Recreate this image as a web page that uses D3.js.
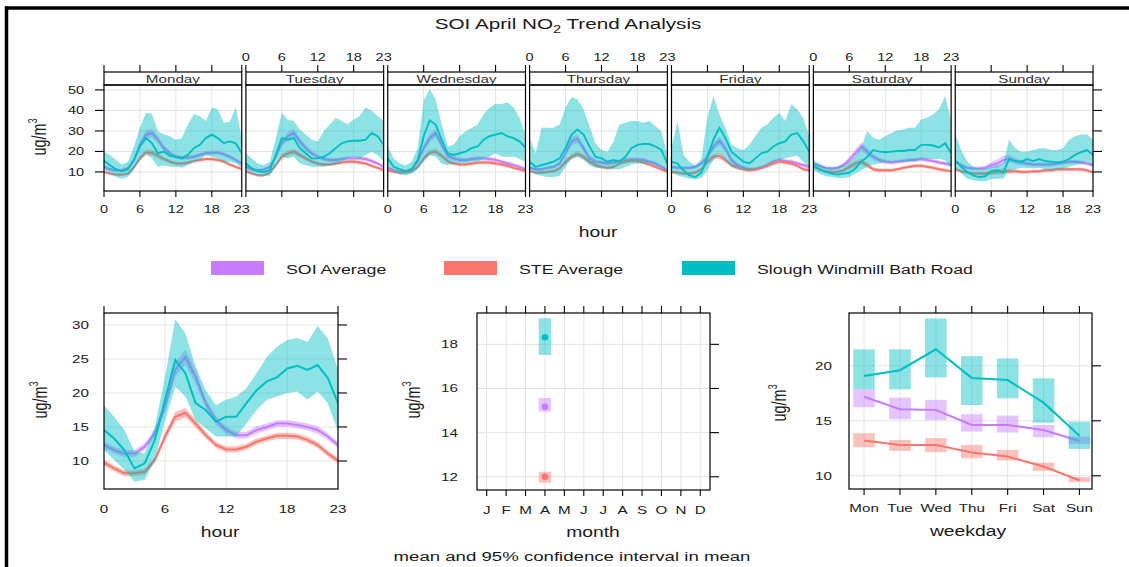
<!DOCTYPE html>
<html>
<head>
<meta charset="utf-8">
<script src="https://cdn.jsdelivr.net/npm/d3@7"></script>
<style>
  body { margin: 0; background: #fff; }
  svg { display: block; }
  text { font-family: "Liberation Sans", Arial, sans-serif; fill: #1a1a1a; }
</style>
</head>
<body>
<svg id="chart" width="1129" height="567"></svg>
<script>
// ---------------- data ----------------
const seriesNames = ["SOI Average", "STE Average", "Slough Windmill Bath Road"];
const seriesColors = ["#C77CFF", "#F8766D", "#00BFC4"];

const days = ["Monday", "Tuesday", "Wednesday", "Thursday", "Friday", "Saturday", "Sunday"];
const hourTicks = [0, 6, 12, 18, 23];
const topYTicks = [10, 20, 30, 40, 50];

// hour-by-weekday means (one row of 24 hours per day)
const soiByDay = [
  [12.5,11.3,10.8,10.8,12,15.8,23.2,28.2,29,25.7,21.6,19.1,17.4,16.9,16.9,17.4,18.3,19.1,19.4,19.4,18.6,17.4,15.8,14.1],
  [12.5,11.3,10.8,11.1,12.5,17.4,24,27.4,29,24.9,21.6,19.1,17.4,16.3,15.8,15.8,16.3,16.6,16.6,16.6,16.3,15.3,14.1,12.5],
  [12,10.8,10,10.3,11.3,15,21.6,26.5,29,23.2,17.9,16.6,15.8,15.8,16.3,16.6,16.6,16.3,15.8,15,14.1,13.3,12.5,11.3],
  [12,11.3,11.3,12,12.5,14.1,19.1,24.9,26.2,21.6,16.6,15,14.6,14.1,14.6,15.3,15.8,16.1,16.1,15.8,15,14.1,12.5,10.8],
  [12.5,12,12,12,12.5,14.1,17.4,22.4,25.2,21.6,15.8,13.3,12,11.3,11.3,12,13.3,15,15.8,15.3,15,14.1,13.3,12.5],
  [14.1,13,12,11.7,12,13.3,15.8,19.1,22.4,19.9,17.4,15.8,15,14.6,15,15.3,15.8,15.8,16.3,15.8,15.3,14.6,14.1,13.3],
  [15,13.3,12,11.7,11.7,12,13.3,14.1,15.8,16.6,15.3,14.6,14.1,13.6,13.6,13.6,13.6,14.1,14.6,15,15,14.6,14.1,13.3]
];
const steByDay = [
  [10,9.2,8.7,8.7,9.2,12.5,16.6,19.4,19.4,17.9,16.3,15,14.1,14.1,14.5,15.3,15.8,16.3,16.3,15.8,15,13.6,12.5,11.3],
  [10.3,9.2,8.3,8.3,9.7,13.3,17.4,19.1,19.9,18.3,16.6,15,14.1,13.6,13.6,14.1,14.6,15,15,14.6,14.1,13,12,10.8],
  [10.8,10,9.7,9.7,10.3,12.5,16.6,19.4,19.9,17.9,15.3,14.1,13.6,13.6,14.1,14.5,14.6,14.6,14.1,13.6,13,12,11.3,10.3],
  [10.3,9.7,9.7,10,10.3,11.7,15,17.4,18.8,17.4,15,13.3,12.5,12,12.5,14.1,15,15.5,15.3,14.6,13.6,12.5,11.3,10],
  [10,9.7,9.2,9.2,9.7,11.3,15,17.4,17.9,15.8,13.3,12,11.3,10.8,11.3,12,13,14.1,15,14.6,14.1,13,11.3,10.8],
  [12.5,11.3,10.3,10,10,10.8,12.5,14.1,15,13.3,11.3,10.8,10.8,10.8,11.3,12,12.5,13,13,12.5,12,11.3,10.8,10.3],
  [11.3,10.3,9.7,9.2,9.2,9.2,9.7,10,10.3,10.3,10.3,10,10,10.3,10.3,10.8,10.8,11.3,11.3,11.3,11.3,11.3,10.8,9.7]
];
const sloughByDay = [
  [15.5,13.3,11.3,10.3,11.3,15.8,22.4,26.5,24,19.1,19.9,17.9,17.4,16.6,18.3,21.6,23.2,26.5,28.2,26.5,24,24.9,24,19.1],
  [14.1,11.7,10.3,10,10.8,18.3,26.5,25.7,26.5,21.6,19.1,16.6,16.6,17.4,19.1,21.6,24,24.9,25.2,25.2,25.7,29,27.4,23.2],
  [16.6,12.5,11.3,10.3,11.3,15.8,27.4,35.1,33.1,25.7,19.1,18.3,19.1,19.9,21.6,22.4,25.7,27.4,28.2,29,27.4,26.5,24.9,21.9],
  [15,12.5,13.3,14.1,15,16.6,21.6,28.2,30.7,28.2,22.4,17.4,16.6,15,15.8,15,17.4,21.6,23.2,23.6,23.6,22.4,20.7,14.1],
  [15,14.1,10.8,8.3,7.5,9.7,17.4,25.7,31.5,26.5,19.9,17.4,15,14.1,16.6,19.1,19.9,22.4,24,24.9,28.2,29,24.9,19.9],
  [13.3,11.3,10,9.2,8.7,9.2,9.7,11.7,15,17.4,20.7,19.9,19.6,19.9,20.2,20.2,20.7,20.7,23.2,23.2,22.9,21.9,24,19.1],
  [15.8,12.5,10,8.3,7.5,7.9,10.3,10.8,9.7,16.3,15.3,15,16.3,15.3,16.3,15.3,15,14.6,15,16.3,18.3,19.6,20.7,18.3]
];
const sloughLoByDay = [
  [11.3,9.2,7.5,6.7,7.5,10.8,15.8,19.1,16.6,12.5,13.3,12.5,12.5,12,13.3,15,15.8,18.3,17.4,16.6,15,15,14.1,12],
  [10.8,9.2,8.3,8,8.3,12.5,17.4,16.6,17.4,14.1,13.3,12.5,12.5,12.5,13.3,13.6,15,16.6,17.4,16.6,18.3,19.9,18.3,15],
  [13.3,10,8.7,8.3,9.2,11.3,15,18.3,17.4,14.1,13.3,14.1,14.1,14.1,15,15,16.3,17.4,19.1,17.4,17.4,17.4,16.3,15],
  [10.8,8.7,8,7.5,7.5,8,12.5,16.6,17.4,15.8,13.3,12,11.7,11.3,11.3,11.3,12.5,13.6,14.1,14.1,14.1,13,12,10],
  [9.7,8.3,7.5,6.7,6.4,7,10.8,15.8,19.1,15.8,12.5,12,10.8,10.8,11.3,12,13.3,15,15.8,16.6,17.4,17.9,15,12.5],
  [10.8,9.2,8,7.5,7,7,7.5,9.2,10.8,12.5,13.6,14.1,14.6,14.6,15,15,15,15.3,16.3,16.3,16.3,16.3,15.8,12],
  [12,9.2,6.7,5.9,5.4,5.4,6.4,6.7,6.7,10.8,11.3,12,12,11.7,12,11.3,10.8,11.3,11.3,12.5,13.3,14.1,15,12.5]
];
const sloughHiByDay = [
  [19.9,18.3,15.8,13.6,15,22.4,31.5,38.9,38.4,29.8,28.2,27.4,25.7,26.5,33.1,38.1,37.3,34.8,41.4,40.6,34,34.5,41.4,26.5],
  [19.1,16.6,14.1,13.3,15,26.5,38.9,35.6,34.8,30.7,28.2,25.7,24.9,29.8,33.1,36.4,34.8,33.1,35.6,37.3,41.4,39.8,37.3,34.8],
  [22.4,16.6,14.1,13.3,15,21.6,44.7,50.5,45.5,33.1,22.4,23.2,27.4,29.8,31.5,33.1,38.1,41.4,43.1,43.1,43.9,41.4,36.4,28.2],
  [26.5,19.1,31.5,31.5,31.5,33.1,41.4,46.4,45.5,40.6,32.3,24,20.7,19.9,24.9,33.1,34,34.8,34.8,34,34.8,32.3,29.8,18.3],
  [21.6,34.8,18.3,15,13.3,16.6,36.4,47.2,38.1,31.5,23.2,21.6,20.7,23.2,27.4,31.5,33.1,36.4,38.9,34.8,43.1,40.6,36.4,27.4],
  [15.8,14.1,12.5,12,12.5,13.3,15,17.4,22.4,29.8,26.5,25.7,27.4,29,30.2,30.7,31.5,31.5,35.6,36.4,38.1,40.6,47.2,34.8],
  [28.2,20.7,15,12.5,11.7,11.7,12.5,13.3,14.1,25.7,21.6,19.9,19.9,20.7,21.6,21.6,20.7,20.7,21.6,25.7,27.4,28.2,28.2,25.7]
];
// half-width of the 95% interval by hour for the two network averages
const soiDayHalfWidth = [0.8,0.8,0.8,0.8,0.8,1,1.5,2,2,1.8,1.5,1.2,1,1,1,1,1,1,1,1,1,1,0.9,0.9];
const steDayHalfWidth = [0.7,0.7,0.7,0.7,0.7,0.8,1.2,1.4,1.4,1.2,1,0.9,0.8,0.8,0.8,0.8,0.8,0.8,0.8,0.8,0.8,0.8,0.8,0.7];

// diurnal profile (all days)
const hourTicksBottom = [0, 6, 12, 18, 23];
const hourYTicks = [10, 15, 20, 25, 30];
const soiHour   = [12.35,11.6,11.1,11.1,12.1,14.1,18.0,23.4,25.3,22.4,18.5,16.0,14.56,13.8,13.8,14.56,15.0,15.5,15.5,15.3,15.0,14.56,13.6,12.35];
const soiHourLo = [11.85,11.1,10.6,10.6,11.6,13.5,17.2,22.4,24.2,21.4,17.8,15.4,14.0,13.3,13.3,14.0,14.5,15.0,15.0,14.8,14.5,14.0,13.1,11.9];
const soiHourHi = [12.85,12.1,11.6,11.6,12.6,14.7,18.8,24.4,26.4,23.4,19.2,16.6,15.1,14.3,14.3,15.1,15.5,16.0,16.0,15.8,15.5,15.1,14.1,12.8];
const steHour   = [9.75,8.9,8.2,8.2,8.4,10.15,13.6,16.5,17.1,15.5,13.8,12.35,11.7,11.7,12.1,12.85,13.3,13.7,13.7,13.6,13.1,12.35,11.1,10.05];
const steHourLo = [9.3,8.45,7.75,7.75,7.95,9.7,13.0,15.8,16.4,14.9,13.3,11.9,11.25,11.25,11.65,12.4,12.85,13.25,13.25,13.15,12.65,11.9,10.65,9.6];
const steHourHi = [10.2,9.35,8.65,8.65,8.85,10.6,14.2,17.2,17.8,16.1,14.3,12.8,12.15,12.15,12.55,13.3,13.75,14.15,14.15,14.05,13.55,12.8,11.55,10.5];
const sloughHour   = [14.56,13.3,11.6,8.9,9.66,13.1,19.0,24.85,22.9,18.5,17.5,15.8,16.5,16.5,18.5,20.4,21.7,22.3,23.6,24.0,23.4,24.1,22.2,18.5];
const sloughHourLo = [11.6,10.15,8.7,6.95,7.2,10.15,16.0,20.9,19.5,16.0,14.8,13.6,13.6,13.6,15.5,17.5,19.0,19.5,20.0,20.2,19.0,20.2,18.5,14.3];
const sloughHourHi = [18.2,16.5,14.56,11.4,11.1,15.0,22.4,30.8,28.8,23.9,20.4,18.2,19.0,19.5,20.7,22.9,25.3,26.8,27.8,28.1,27.5,29.85,28.0,23.5];

// monthly means (April only)
const monthLabels = ["J","F","M","A","M","J","J","A","S","O","N","D"];
const monthYTicks = [12, 14, 16, 18];
const monthIndex = 4;
const monthMean = [15.17, 12.0, 18.32];
const monthLo   = [14.95, 11.73, 17.52];
const monthHi   = [15.57, 12.23, 19.18];

// day-of-week means
const weekdayLabels = ["Mon","Tue","Wed","Thu","Fri","Sat","Sun"];
const weekdayYTicks = [10, 15, 20];
const soiWd   = [17.19,16.05,15.98,14.62,14.62,14.17,13.17];
const soiWdLo = [16.23,15.14,15.08,14.02,13.93,13.51,12.9];
const soiWdHi = [17.86,17.1,16.9,15.6,15.47,14.62,13.56];
const steWd   = [13.2,12.81,12.81,12.11,11.75,10.84,9.6];
const steWdLo = [12.6,12.27,12.15,11.6,11.39,10.45,9.43];
const steWdHi = [13.87,13.26,13.42,12.81,12.36,11.2,9.88];
const sloughWd   = [19.07,19.6,21.5,18.9,18.7,16.65,13.65];
const sloughWdLo = [17.86,17.86,18.95,16.44,17.04,14.83,12.45];
const sloughWdHi = [21.49,21.5,24.3,20.88,20.67,18.86,14.92];

// ---------------- drawing ----------------
const svg = d3.select("#chart");
const SX = 1.38;           // horizontal text stretch used throughout
const GRID = "#e3e3e3";
const BAND_OPACITY = 0.45;
const hours = d3.range(24);

function label(g, x, y, str, size, anchor = "middle", sx = SX) {
  return g.append("text")
    .attr("transform", `translate(${x},${y}) scale(${sx},1)`)
    .attr("font-size", size)
    .attr("text-anchor", anchor)
    .text(str);
}
function yLabel(g, x, y, size) {
  const t = g.append("text")
    .attr("transform", `translate(${x},${y}) scale(${SX},1) rotate(-90)`)
    .attr("font-size", size)
    .attr("text-anchor", "middle");
  t.append("tspan").text("ug/m");
  t.append("tspan").attr("font-size", size * 0.6).attr("dy", -size * 0.45).text("3");
  return t;
}
function tick(g, x1, y1, x2, y2) {
  g.append("line").attr("x1", x1).attr("y1", y1).attr("x2", x2).attr("y2", y2)
    .attr("stroke", "#000").attr("stroke-width", 1.1);
}
let clipId = 0;
function clipFor(g, x, y, w, h) {
  const id = "clip" + (clipId++);
  svg.append("clipPath").attr("id", id).append("rect")
    .attr("x", x).attr("y", y).attr("width", w).attr("height", h);
  return g.append("g").attr("clip-path", `url(#${id})`);
}

// outer frame (left and top rules)
svg.append("line").attr("x1", 6.5).attr("y1", 6.5).attr("x2", 6.5).attr("y2", 567)
  .attr("stroke", "#000").attr("stroke-width", 3.5);
svg.append("line").attr("x1", 5).attr("y1", 8).attr("x2", 1129).attr("y2", 8)
  .attr("stroke", "#000").attr("stroke-width", 3.5);

// title
const title = svg.append("text")
  .attr("transform", `translate(568,29) scale(${SX},1)`)
  .attr("font-size", 15).attr("text-anchor", "middle");
title.append("tspan").text("SOI April NO");
title.append("tspan").attr("font-size", 10.5).attr("dy", 4).text("2");
title.append("tspan").attr("dy", -4).text(" Trend Analysis");

// ---- top row: hour by weekday ----
const topBand = d3.scaleBand().domain(days).range([104, 1093]).paddingInner(0.029);
const yTop = d3.scaleLinear().domain([0.7, 52.4]).range([191, 85]);
const stripTop = 72, panelTop = 85, panelBottom = 191;

const topSeries = days.map((_, d) => [
  { mean: soiByDay[d], lo: soiByDay[d].map((v, h) => v - soiDayHalfWidth[h]), hi: soiByDay[d].map((v, h) => v + soiDayHalfWidth[h]) },
  { mean: steByDay[d], lo: steByDay[d].map((v, h) => v - steDayHalfWidth[h]), hi: steByDay[d].map((v, h) => v + steDayHalfWidth[h]) },
  { mean: sloughByDay[d], lo: sloughLoByDay[d], hi: sloughHiByDay[d] }
]);

days.forEach((day, d) => {
  const x0 = topBand(day), w = topBand.bandwidth();
  const x = d3.scaleLinear().domain([0, 23]).range([x0, x0 + w]);
  const g = svg.append("g");

  // grid
  g.selectAll(".gv").data([6, 12, 18]).join("line")
    .attr("x1", v => x(v)).attr("x2", v => x(v)).attr("y1", panelTop).attr("y2", panelBottom)
    .attr("stroke", GRID).attr("stroke-width", 1);
  g.selectAll(".gh").data(topYTicks).join("line")
    .attr("x1", x0).attr("x2", x0 + w).attr("y1", v => yTop(v)).attr("y2", v => yTop(v))
    .attr("stroke", GRID).attr("stroke-width", 1);

  const plot = clipFor(g, x0, panelTop, w, panelBottom - panelTop);
  topSeries[d].forEach((s, i) => {
    const area = d3.area().x((_, h) => x(h)).y0((_, h) => yTop(s.lo[h])).y1((_, h) => yTop(s.hi[h]));
    const line = d3.line().x((_, h) => x(h)).y(v => yTop(v));
    plot.append("path").datum(hours).attr("d", area)
      .attr("fill", seriesColors[i]).attr("fill-opacity", BAND_OPACITY);
    plot.append("path").datum(s.mean).attr("d", line)
      .attr("fill", "none").attr("stroke", seriesColors[i]).attr("stroke-width", 1.9);
  });

  // strip + panel borders
  g.append("rect").attr("x", x0).attr("y", stripTop).attr("width", w).attr("height", panelTop - stripTop)
    .attr("fill", "#fff").attr("stroke", "#000").attr("stroke-width", 1.2);
  g.append("rect").attr("x", x0).attr("y", panelTop).attr("width", w).attr("height", panelBottom - panelTop)
    .attr("fill", "none").attr("stroke", "#000").attr("stroke-width", 1.2);
  label(g, x0 + w / 2, 83, day, 10.5, "middle", 1.45).style("fill", "#333");

  // ticks on both sides, labels alternate bottom / top
  hourTicks.forEach(v => {
    tick(g, x(v), panelBottom, x(v), panelBottom + 6);
    tick(g, x(v), stripTop, x(v), stripTop - 7);
    if (d % 2 === 0) label(g, x(v), 213, String(v), 10.5);
    else label(g, x(v), 61, String(v), 10.5);
  });
  if (d === 0) {
    topYTicks.forEach(v => {
      tick(g, x0 - 9, yTop(v), x0, yTop(v));
      label(g, 84, yTop(v) + 3.7, String(v), 10.5, "end");
    });
  }
  if (d === days.length - 1) {
    topYTicks.forEach(v => tick(g, x0 + w, yTop(v), x0 + w + 9, yTop(v)));
  }
});
label(svg, 598, 237, "hour", 14);
yLabel(svg, 46, 137, 14.5);

// ---- legend ----
const legendX = [211, 444, 682];
seriesNames.forEach((name, i) => {
  svg.append("rect").attr("x", legendX[i]).attr("y", 261).attr("width", 53).attr("height", 14)
    .attr("fill", seriesColors[i]);
  label(svg, legendX[i] + 75, 273.5, name, 12.5, "start", 1.42);
});

// ---- bottom-left: diurnal profile ----
{
  const L = 104, R = 338, T = 313, B = 489;
  const x = d3.scaleLinear().domain([0, 23]).range([L, R]);
  const y = d3.scaleLinear().domain([5.88, 31.76]).range([B, T]);
  const g = svg.append("g");
  g.selectAll(".gv").data([6, 12, 18]).join("line")
    .attr("x1", v => x(v)).attr("x2", v => x(v)).attr("y1", T).attr("y2", B).attr("stroke", GRID);
  g.selectAll(".gh").data(hourYTicks).join("line")
    .attr("x1", L).attr("x2", R).attr("y1", v => y(v)).attr("y2", v => y(v)).attr("stroke", GRID);
  const plot = clipFor(g, L, T, R - L, B - T);
  const sets = [
    { mean: soiHour, lo: soiHourLo, hi: soiHourHi },
    { mean: steHour, lo: steHourLo, hi: steHourHi },
    { mean: sloughHour, lo: sloughHourLo, hi: sloughHourHi }
  ];
  sets.forEach((s, i) => {
    plot.append("path").datum(hours)
      .attr("d", d3.area().x(h => x(h)).y0(h => y(s.lo[h])).y1(h => y(s.hi[h])))
      .attr("fill", seriesColors[i]).attr("fill-opacity", BAND_OPACITY);
    plot.append("path").datum(s.mean)
      .attr("d", d3.line().x((_, h) => x(h)).y(v => y(v)))
      .attr("fill", "none").attr("stroke", seriesColors[i]).attr("stroke-width", 2);
  });
  g.append("rect").attr("x", L).attr("y", T).attr("width", R - L).attr("height", B - T)
    .attr("fill", "none").attr("stroke", "#000").attr("stroke-width", 1.2);
  hourTicksBottom.forEach(v => {
    tick(g, x(v), T, x(v), T - 7);
    label(g, x(v), 513, String(v), 11);
  });
  hourYTicks.forEach(v => {
    tick(g, R, y(v), R + 9, y(v));
    label(g, 89, y(v) + 4, String(v), 11, "end");
  });
  label(g, 220, 537, "hour", 14);
  yLabel(g, 47, 400, 14.5);
}

// ---- bottom-middle: month ----
{
  const L = 477, R = 710, T = 313, B = 490;
  const x = d3.scaleLinear().domain([0.5, 12.5]).range([L, R]);
  const y = d3.scaleLinear().domain([11.4, 19.42]).range([B, T]);
  const g = svg.append("g");
  const months = d3.range(1, 13);
  g.selectAll(".gv").data(months).join("line")
    .attr("x1", v => x(v)).attr("x2", v => x(v)).attr("y1", T).attr("y2", B).attr("stroke", GRID);
  g.selectAll(".gh").data(monthYTicks).join("line")
    .attr("x1", L).attr("x2", R).attr("y1", v => y(v)).attr("y2", v => y(v)).attr("stroke", GRID);
  const half = (x(1.32) - x(1)) ;
  seriesNames.forEach((_, i) => {
    g.append("rect")
      .attr("x", x(monthIndex) - half).attr("width", 2 * half)
      .attr("y", y(monthHi[i])).attr("height", y(monthLo[i]) - y(monthHi[i]))
      .attr("fill", seriesColors[i]).attr("fill-opacity", BAND_OPACITY);
    g.append("circle").attr("cx", x(monthIndex)).attr("cy", y(monthMean[i])).attr("r", 3.3)
      .attr("fill", seriesColors[i]);
  });
  g.append("rect").attr("x", L).attr("y", T).attr("width", R - L).attr("height", B - T)
    .attr("fill", "none").attr("stroke", "#000").attr("stroke-width", 1.2);
  months.forEach((m, k) => {
    tick(g, x(m), T, x(m), T - 7);
    tick(g, x(m), B, x(m), B + 6);
    label(g, x(m), 514, monthLabels[k], 11);
  });
  monthYTicks.forEach(v => {
    tick(g, R, y(v), R + 9, y(v));
    label(g, 458, y(v) + 4, String(v), 11, "end");
  });
  label(g, 593, 537, "month", 14);
  yLabel(g, 420, 400, 14.5);
}

// ---- bottom-right: weekday ----
{
  const L = 849, R = 1092, T = 313, B = 489;
  const x = d3.scaleLinear().domain([0.58, 7.35]).range([L, R]);
  const y = d3.scaleLinear().domain([8.8, 24.8]).range([B, T]);
  const g = svg.append("g");
  const idx = d3.range(1, 8);
  g.selectAll(".gv").data(idx).join("line")
    .attr("x1", v => x(v)).attr("x2", v => x(v)).attr("y1", T).attr("y2", B).attr("stroke", GRID);
  g.selectAll(".gh").data(weekdayYTicks).join("line")
    .attr("x1", L).attr("x2", R).attr("y1", v => y(v)).attr("y2", v => y(v)).attr("stroke", GRID);
  const sets = [
    { mean: soiWd, lo: soiWdLo, hi: soiWdHi },
    { mean: steWd, lo: steWdLo, hi: steWdHi },
    { mean: sloughWd, lo: sloughWdLo, hi: sloughWdHi }
  ];
  const half = x(1.3) - x(1);
  const plot = clipFor(g, L, T, R - L, B - T);
  sets.forEach((s, i) => {
    plot.selectAll(null).data(idx).join("rect")
      .attr("x", v => x(v) - half).attr("width", 2 * half)
      .attr("y", (v, k) => y(s.hi[k])).attr("height", (v, k) => y(s.lo[k]) - y(s.hi[k]))
      .attr("fill", seriesColors[i]).attr("fill-opacity", BAND_OPACITY);
    plot.append("path").datum(s.mean)
      .attr("d", d3.line().x((_, k) => x(k + 1)).y(v => y(v)))
      .attr("fill", "none").attr("stroke", seriesColors[i]).attr("stroke-width", 2);
  });
  g.append("rect").attr("x", L).attr("y", T).attr("width", R - L).attr("height", B - T)
    .attr("fill", "none").attr("stroke", "#000").attr("stroke-width", 1.2);
  idx.forEach((v, k) => {
    tick(g, x(v), T, x(v), T - 7);
    tick(g, x(v), B, x(v), B + 6);
    label(g, x(v), 512, weekdayLabels[k], 11);
  });
  weekdayYTicks.forEach(v => {
    tick(g, R, y(v), R + 9, y(v));
    label(g, 832, y(v) + 4, String(v), 11, "end");
  });
  label(g, 968, 536, "weekday", 14);
  yLabel(g, 786, 403, 14.5);
}

// footer
label(svg, 572, 561, "mean and 95% confidence interval in mean", 13.5);
</script>
</body>
</html>
